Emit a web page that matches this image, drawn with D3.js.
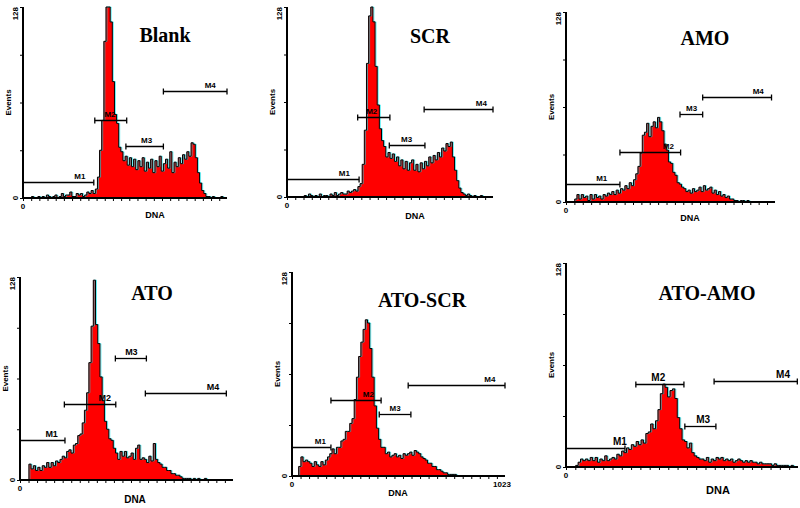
<!DOCTYPE html>
<html>
<head>
<meta charset="utf-8">
<style>
body { margin: 0; background: #fff; }
svg { display: block; }
.title { font-family: "Liberation Serif", serif; font-weight: bold; font-size: 20px; }
.small { font-family: "Liberation Sans", sans-serif; font-size: 8px; font-weight: bold; }
</style>
</head>
<body>
<div id="chart"></div>
<script src="https://d3js.org/d3.v7.min.js"></script>
<script>

// DNA histograms, 96 bins over channels 0-1023, events per bin
var binCount = 96, channels = 1024, maxEvents = 128;

var blankCounts = [0,0,0,0,1,0,0,1,0, 1,0,2,1,0,1,2,0,1,3,1,2, 2,4,1,1,3,2,3,1,2,4, 3,5,3,
  6,14,32,52,105,128,128,118,78,56,50,34,31,25,28,22,27,21,26,19,25,21,27,18,24,20,26,17,25,21,28,18,23,
  26,20,31,17,24,21,27,23,29,26,31,28,37,36,27,17,10,5,3,1,1, 0,1,0,0,0,1,0,0];

var scrCounts = [0,0,0,0,0,0,0,0,1,0,2,1,0,1,0,2,0,1,1,0,2, 1,3,1,2,3,2,2,4,3,
  4,5,4,7,9,22,45,90,122,128,118,88,62,46,38,34,27,30,26,29,24,27,21,25,19,24,18,23,25,18,22,17,23,19,
  24,21,27,23,28,25,30,27,33,31,36,34,37,27,18,11,6,3,2,1,2,1, 0,1,0,0,1,0,0,0,0,0];

var amoCounts = [0,0,0,0, 2,5,2,5,3,4,1,5,2,5,3,4,2,5,4,6,5,7,5,8,6,9,8,11,9,13,11,15,19,24,33,45,47,53,44,51,
  54,50,57,54,48,39,35,27,26,20,18,13,12,10,9,7,8,6,9,7,8,10,7,11,8,9,10,6,8,5,7,4,5,3,4,2,2,1,1,0,1,1,0,1,
  0,0,0,0,0,0,0,0,0,0,0,0];

var atoCounts = [0,0,0,0, 10,7,9,6,8,6,9,8,11,8,11,9,12,11,13,15,14,18,19,17,22,23,28,29,36,44,55,74,97,126,
  98,86,65,50,37,32,26,25,20,17,13,18,15,18,14,15,17,13,20,22,13,14,13,11,15,12,23,13,11,10,8,8,6,6,4,4,
  3,3,2,1,1,1,1,0,1,0,1,0,0,1,0,0,0,0,0,0,0,0,0,0,0,0];

var atoScrCounts = [0,0,0, 6,12,9,10,9,8,6,9,7,6,9,7,10,12,14,17,14,18,18,22,23,28,28,33,36,48,62,75,84,92,98,
  96,80,62,44,30,23,18,18,14,15,12,13,14,12,13,11,14,13,14,15,13,16,15,14,12,11,10,8,8,6,6,4,4,3,2,2,1,1,
  1,1,0,0,0,0,0,0,0,0,0,0,0,0,0,0,0,0,0,0,0,0,0,0];

var atoAmoCounts = [0,0,0,0, 1,3,5,4,5,4,6,4,6,3,5,4,7,4,5,6,5,8,7,10,9,12,11,14,13,16,14,17,15,21,22,27,24,29,
  36,46,52,50,44,48,49,43,31,24,17,16,12,15,9,7,6,5,5,4,6,3,5,4,6,5,6,4,5,4,5,3,4,5,4,3,4,3,4,3,3,2,3,2,2,
  2,2,1,2,1,1,1,1,1,0,1,0,0];

// marker gates: name, from channel, to channel, drawn at event level, label channel
var blankMarkers = [["M1",0,355,11,285],["M2",360,520,52,436],["M3",516,704,35,620],["M4",704,1023,72,939]];
var scrMarkers = [["M1",0,358,12,285],["M2",351,511,54,421],["M3",508,685,35,594],["M4",681,1023,59,965]];
var amoMarkers = [["M1",0,264,12,175],["M2",264,561,34,501],["M3",558,669,59,615],["M4",669,1006,71,941]];
var atoMarkers = [["M1",0,216,25,152],["M2",213,460,48,407],["M3",458,607,77,535],["M4",602,991,55,927]];
var atoScrMarkers = [["M1",0,187,18,136],["M2",187,428,48,367],["M3",419,571,39,495],["M4",558,1023,57,950]];
var atoAmoMarkers = [["M1",0,260,12,238],["M2",308,520,52,407],["M3",524,661,26,605],["M4",653,1020,54,957]];

var titles = ["Blank", "SCR", "AMO", "ATO", "ATO-SCR", "ATO-AMO"];
var yTickValues = [0, 32, 64, 96, 128];
var yTickLabels = ["0", "128"];

var panels = [
  {counts: blankCounts, markers: blankMarkers, box: [23, 227, 7, 198], title: [165, 42], dna: [155, 218], label: 8},
  {counts: scrCounts, markers: scrMarkers, box: [287, 493, 7, 197], title: [430, 43], dna: [415, 219], label: 8},
  {counts: amoCounts, markers: amoMarkers, box: [566, 775, 12, 202], title: [705, 45], dna: [690, 221], label: 8},
  {counts: atoCounts, markers: atoMarkers, box: [20, 233, 277, 480], title: [152, 300], dna: [135, 503], label: 9},
  {counts: atoScrCounts, markers: atoScrMarkers, box: [292, 505, 272, 476], title: [422, 307], dna: [398, 496], label: 8, showMax: true},
  {counts: atoAmoCounts, markers: atoAmoMarkers, box: [566, 798, 263, 467], title: [707, 300], dna: [718, 494], label: 10}
];

var svg = d3.select("#chart").append("svg")
    .attr("width", 800)
    .attr("height", 508);

panels.forEach(function(p, k) {
  var x = d3.scaleLinear().domain([0, channels - 1]).range([p.box[0], p.box[1]]);
  var y = d3.scaleLinear().domain([0, maxEvents]).range([p.box[3], p.box[2]]);
  var binW = channels / binCount;
  var g = svg.append("g");

  var pts = p.counts.map(function(c, i) { return [i * binW + binW / 2, Math.min(c, maxEvents)]; });

  var outline = d3.line()
      .curve(d3.curveStep)
      .x(function(d) { return x(d[0]); })
      .y(function(d) { return y(d[1]); });

  // the histogram
  g.append("path")
      .datum(pts)
      .attr("fill", "#ff0000")
      .attr("d", d3.area()
        .curve(d3.curveStep)
        .x(function(d) { return x(d[0]); })
        .y0(y(0))
        .y1(function(d) { return y(d[1]); }));

  g.append("path")
      .datum(pts)
      .attr("fill", "none")
      .attr("stroke", "#00e5ee")
      .attr("stroke-width", 0.6)
      .attr("transform", "translate(1,0)")
      .attr("d", outline);

  g.append("path")
      .datum(pts)
      .attr("fill", "none")
      .attr("stroke", "#000")
      .attr("stroke-width", 1)
      .attr("d", outline);

  // Y axis
  var yAxis = g.append("g")
      .attr("transform", "translate(" + p.box[0] + ",0)")
      .call(d3.axisLeft(y).tickValues(yTickValues).tickSize(3).tickFormat(""));
  yAxis.select(".domain").attr("stroke-width", 2).attr("d", "M0," + y(maxEvents) + "V" + y(0));

  // X axis
  var xAxis = g.append("g")
      .attr("transform", "translate(0," + p.box[3] + ")")
      .call(d3.axisBottom(x).tickValues(d3.range(0, channels, 41)).tickSize(3).tickFormat(""));
  xAxis.select(".domain").attr("stroke-width", 2).attr("d", "M" + p.box[0] + ",0H" + p.box[1]);

  // axis texts
  g.append("text").attr("class", "small")
      .attr("transform", "translate(" + (p.box[0] - 5) + "," + y(maxEvents) + ") rotate(-90)")
      .attr("text-anchor", "end").text(yTickLabels[1]);
  g.append("text").attr("class", "small")
      .attr("transform", "translate(" + (p.box[0] - 5) + "," + y(0) + ") rotate(-90)")
      .attr("text-anchor", "middle").text(yTickLabels[0]);
  g.append("text").attr("class", "small")
      .attr("transform", "translate(" + (p.box[0] - 12) + "," + y(maxEvents / 2) + ") rotate(-90)")
      .attr("text-anchor", "middle").text("Events");
  g.append("text").attr("class", "small")
      .attr("x", x(0)).attr("y", p.box[3] + 11)
      .attr("text-anchor", "middle").text("0");
  if (p.showMax) {
    g.append("text").attr("class", "small")
        .attr("x", x(channels - 1) - 3).attr("y", p.box[3] + 11)
        .attr("text-anchor", "middle").text("1023");
  }
  g.append("text").attr("class", "small")
      .attr("x", p.dna[0]).attr("y", p.dna[1])
      .attr("text-anchor", "middle")
      .style("font-size", (p.label + 1) + "px")
      .text("DNA");

  // marker gates
  p.markers.forEach(function(m) {
    var yy = Math.round(y(m[3])) + 0.5;
    g.append("line").attr("x1", x(m[1])).attr("x2", x(m[2]))
        .attr("y1", yy).attr("y2", yy).attr("stroke", "#000").attr("stroke-width", 1.3);
    [m[1], m[2]].forEach(function(c) {
      g.append("line").attr("x1", x(c)).attr("x2", x(c))
          .attr("y1", yy - 3).attr("y2", yy + 3).attr("stroke", "#000").attr("stroke-width", 1.3);
    });
    g.append("text").attr("class", "small")
        .attr("x", x(m[4])).attr("y", yy - 4)
        .attr("text-anchor", "middle")
        .style("font-size", p.label + "px")
        .text(m[0]);
  });

  g.append("text").attr("class", "title")
      .attr("x", p.title[0]).attr("y", p.title[1])
      .attr("text-anchor", "middle").text(titles[k]);
});

</script>
</body>
</html>
